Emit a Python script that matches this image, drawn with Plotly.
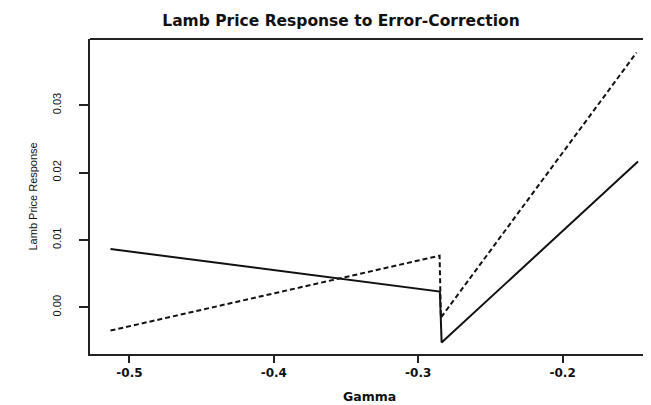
import plotly.graph_objects as go

# Data
gamma_solid = [-0.5131, -0.2850, -0.2838, -0.1478]
resp_solid = [0.00865, 0.00233, -0.00523, 0.02163]

gamma_dashed = [-0.5131, -0.2852, -0.2843, -0.1488]
resp_dashed = [-0.00345, 0.00766, -0.00153, 0.0378]

x_ticks = [-0.5, -0.4, -0.3, -0.2]
x_tick_text = ["-0.5", "-0.4", "-0.3", "-0.2"]
y_ticks = [0.00, 0.01, 0.02, 0.03]
y_tick_text = ["0.00", "0.01", "0.02", "0.03"]

sans = "Liberation Sans, Arial, sans-serif"
wide = "DejaVu Sans, Verdana, sans-serif"

# the page body has an 8px default margin; margins below compensate for it
OFF = 8
L, T = 90 - OFF, 39 - OFF
B_EDGE = 354.5 - OFF
W, H = 651, 405
plot_w = W - L - OFF
plot_h = B_EDGE - T

fig = go.Figure()
fig.add_trace(go.Scatter(x=gamma_solid, y=resp_solid, mode="lines",
                         line=dict(color="#111111", width=2), showlegend=False))
fig.add_trace(go.Scatter(x=gamma_dashed, y=resp_dashed, mode="lines",
                         line=dict(color="#111111", width=2, dash="5px,3px"), showlegend=False))

fig.update_layout(
    width=W, height=H,
    margin=dict(l=L, r=OFF, t=T, b=H - B_EDGE),
    paper_bgcolor="white", plot_bgcolor="white",
    font=dict(family=sans, color="#111111"),
    title=dict(text="<b>Lamb Price Response to Error-Correction</b>",
               x=(341 - OFF) / W, xref="container", xanchor="center",
               y=1 - (21 - OFF) / H, yref="container", yanchor="middle",
               font=dict(size=15.5, family=wide, color="#111111")),
)

fig.update_xaxes(range=[-0.5273, -0.1388], showgrid=False, zeroline=False,
                 showline=True, linecolor="#222222", linewidth=2,
                 ticks="outside", ticklen=7, tickwidth=1.5, tickcolor="#222222",
                 tickvals=x_ticks, ticktext=["<b>%s</b>" % t for t in x_tick_text],
                 tickfont=dict(size=12, family=wide, color="#111111"))
fig.update_yaxes(range=[-0.00693, 0.03981], showgrid=False, zeroline=False,
                 showline=True, linecolor="#222222", linewidth=2,
                 ticks="outside", ticklen=9, tickwidth=1.5, tickcolor="#222222",
                 tickvals=y_ticks, ticktext=y_tick_text, tickangle=-90,
                 ticklabelstandoff=14,
                 tickfont=dict(size=11, family=sans, color="#111111"))

# top border (right border cropped off in the reference)
fig.add_shape(type="line", xref="paper", yref="paper", x0=0, x1=1, y0=1, y1=1,
              line=dict(color="#222222", width=2))

fig.add_annotation(text="<b>Gamma</b>", xref="paper", yref="paper",
                   x=(369 - 90) / plot_w, y=-(397 - 354.5) / plot_h,
                   xanchor="center", yanchor="middle", showarrow=False,
                   font=dict(size=12.5, family=wide, color="#111111"))
fig.add_annotation(text="Lamb Price Response", xref="paper", yref="paper",
                   x=-(90 - 32) / plot_w, y=0.5, textangle=-90,
                   xanchor="center", yanchor="middle", showarrow=False,
                   font=dict(size=11, family=sans, color="#111111"))

fig.write_html("out.html")
